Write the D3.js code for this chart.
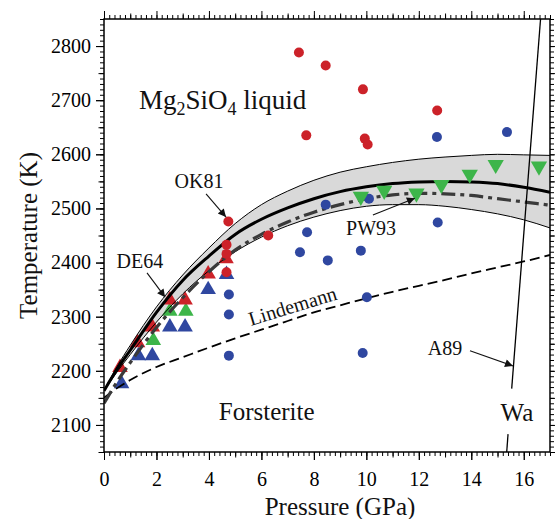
<!DOCTYPE html>
<meta charset="utf-8">
<head>
  <title>Mg2SiO4 melting curve</title>
  <style>
    body { margin: 0; background: #fff; }
    svg { display: block; background: #fff; }
    text { font-family: "Liberation Serif", "Times New Roman", serif; }
    .tick line { stroke: #000; stroke-width: 1; }
  </style>
</head>
<body>
<script src="https://cdn.jsdelivr.net/npm/d3@7"></script>
<script>

// experimental points, [pressure GPa, temperature K]
var redCircles = [[7.43,2788],[8.45,2764],[9.87,2720],[12.70,2681],[7.71,2635],[9.94,2629],
                  [10.05,2618],[6.26,2450],[4.74,2476],[4.67,2433],[4.67,2416],[4.67,2382]];
var blueCircles = [[12.69,2632],[15.36,2641],[8.45,2507],[10.10,2518],[12.72,2474],[7.74,2456],
                   [7.47,2419],[8.53,2404],[9.79,2422],[10.02,2336],[9.86,2233],
                   [4.76,2341],[4.76,2304],[4.76,2228]];
var redTriangles = [[0.61,2206],[1.28,2252],[1.84,2281],[2.51,2331],[3.09,2331],[3.97,2379],[4.65,2407]];
var greenTriangles = [[1.88,2256],[2.51,2310],[3.12,2310]];
var blueTriangles = [[0.67,2176],[1.31,2228],[1.84,2228],[2.51,2281],[3.09,2281],[3.97,2350],[4.67,2378]];
var greenDown = [[9.79,2522],[10.68,2533],[11.91,2528],[12.86,2544],[13.94,2563],[14.93,2581],[16.58,2578]];

// curves read on a common pressure grid
var curveP     = [0,0.5,1,2,3,4,5,6,7,8,9,10,11,12,13,14,15,16,17];
var solidT     = [2163,2203,2238,2308,2367,2412,2452,2480,2501,2518,2531,2540,2546,2549,2550,2549,2546,2539,2530];
var bandTopT   = [2163,2208,2247,2318,2377,2427,2472,2507,2532,2552,2567,2577,2585,2591,2595,2598,2600,2599,2598];
var bandBotT   = [2163,2198,2230,2290,2342,2385,2420,2447,2468,2484,2496,2504,2507,2507,2504,2498,2490,2479,2464];
var pw93T      = [2140,2180,2215,2280,2335,2383,2423,2452,2475,2493,2507,2518,2525,2528,2527,2524,2518,2512,2506];
var lindemannT = [2150,2168,2183,2207,2225,2243,2260,2276,2292,2308,2321,2334,2346,2357,2368,2380,2391,2402,2414];

// A89 boundary (broken where the "Wa" label sits)
var a89Lower = [[15.35,2050],[15.40,2083]];
var a89Upper = [[15.54,2167],[16.64,2850]];

var xTicks = [0,2,4,6,8,10,12,14,16];
var yTicks = [2100,2200,2300,2400,2500,2600,2700,2800];

var margin = {top: 19, right: 5, bottom: 67, left: 104},
    width = 555 - margin.left - margin.right,
    height = 519 - margin.top - margin.bottom;

var x = d3.scaleLinear().domain([0, 17]).range([0, width]);
var y = d3.scaleLinear().domain([2050, 2850]).range([height, 0]);

var svg = d3.select("body").append("svg")
    .attr("width", 555)
    .attr("height", 519);

var defs = svg.append("defs");
defs.append("clipPath").attr("id", "clip")
  .append("rect").attr("width", width).attr("height", height);
defs.append("marker")
    .attr("id", "arrow")
    .attr("viewBox", "0 0 10 10")
    .attr("refX", 10).attr("refY", 5)
    .attr("markerWidth", 11).attr("markerHeight", 8)
    .attr("markerUnits", "userSpaceOnUse")
    .attr("orient", "auto")
  .append("path")
    .attr("d", "M0,0L10,5L0,10z")
    .attr("fill", "#111");

var g = svg.append("g")
    .attr("transform", "translate(" + margin.left + "," + margin.top + ")");

var plot = g.append("g").attr("clip-path", "url(#clip)");

function curve(ts) {
  return curveP.map(function(p, i) { return [p, ts[i]]; });
}

var line = d3.line()
    .x(function(d) { return x(d[0]); })
    .y(function(d) { return y(d[1]); })
    .curve(d3.curveMonotoneX);

// grey uncertainty band
var band = d3.area()
    .x(function(d) { return x(d.p); })
    .y0(function(d) { return y(d.lo); })
    .y1(function(d) { return y(d.hi); })
    .curve(d3.curveMonotoneX);

plot.append("path")
    .datum(curveP.map(function(p, i) { return {p: p, lo: bandBotT[i], hi: bandTopT[i]}; }))
    .attr("d", band)
    .attr("fill", "#d9d9d9");

// upward triangles sit under the curves
var triUp = d3.symbol().type(d3.symbolTriangle).size(105);
var triDown = d3.symbol().type(d3.symbolTriangle).size(115);

function ups(data, color) {
  plot.selectAll(null)
      .data(data)
    .enter().append("path")
      .attr("d", triUp)
      .attr("transform", function(d) { return "translate(" + x(d[0]) + "," + y(d[1]) + ")"; })
      .attr("fill", color);
}
ups(blueTriangles, "#2f47a0");
ups(greenTriangles, "#3db54a");
ups(redTriangles, "#cc2229");

plot.append("path").datum(curve(bandTopT)).attr("d", line)
    .attr("fill", "none").attr("stroke", "#000").attr("stroke-width", 1);
plot.append("path").datum(curve(bandBotT)).attr("d", line)
    .attr("fill", "none").attr("stroke", "#000").attr("stroke-width", 1);

plot.append("path").datum(curve(lindemannT)).attr("d", line)
    .attr("fill", "none").attr("stroke", "#000").attr("stroke-width", 1.8)
    .attr("stroke-dasharray", "10,5");

plot.append("path").datum(curve(pw93T)).attr("d", line)
    .attr("fill", "none").attr("stroke", "#3a3a3a").attr("stroke-width", 3.2)
    .attr("stroke-dasharray", "14,5,4,5");

plot.append("path").datum(curve(solidT)).attr("d", line)
    .attr("fill", "none").attr("stroke", "#000").attr("stroke-width", 3);

var straight = d3.line()
    .x(function(d) { return x(d[0]); })
    .y(function(d) { return y(d[1]); });
[a89Lower, a89Upper].forEach(function(seg) {
  plot.append("path").datum(seg).attr("d", straight)
      .attr("fill", "none").attr("stroke", "#000").attr("stroke-width", 1.3);
});

// circles and downward triangles on top
function dots(data, color) {
  plot.selectAll(null)
      .data(data)
    .enter().append("circle")
      .attr("cx", function(d) { return x(d[0]); })
      .attr("cy", function(d) { return y(d[1]); })
      .attr("r", 5)
      .attr("fill", color);
}
dots(blueCircles, "#2f47a0");
dots(redCircles, "#cc2229");

plot.selectAll(null)
    .data(greenDown)
  .enter().append("path")
    .attr("d", triDown)
    .attr("transform", function(d) { return "translate(" + x(d[0]) + "," + y(d[1]) + ") rotate(180)"; })
    .attr("fill", "#3db54a");

// axes: major / medium / minor ticks on all four sides, pointing out
function ticks(axisFn, scale, values, size) {
  return axisFn(scale).tickValues(values).tickSize(size).tickFormat("");
}
var xMinor = d3.range(0, 17.001, 0.2), xMid = d3.range(1, 17, 2);
var yMinor = d3.range(2050, 2850.1, 10), yMid = d3.range(2050, 2850, 100);

[[d3.axisBottom, "translate(0," + height + ")"], [d3.axisTop, "translate(0,0)"]].forEach(function(a) {
  g.append("g").attr("transform", a[1]).call(ticks(a[0], x, xMinor, 4));
  g.append("g").attr("transform", a[1]).call(ticks(a[0], x, xMid, 5.5));
  g.append("g").attr("transform", a[1]).call(ticks(a[0], x, xTicks, 8));
});
[[d3.axisLeft, "translate(0,0)"], [d3.axisRight, "translate(" + width + ",0)"]].forEach(function(a) {
  g.append("g").attr("transform", a[1]).call(ticks(a[0], y, yMinor, 4));
  g.append("g").attr("transform", a[1]).call(ticks(a[0], y, yMid, 5.5));
  g.append("g").attr("transform", a[1]).call(ticks(a[0], y, yTicks, 8));
});

g.append("g")
    .attr("transform", "translate(0," + height + ")")
    .call(d3.axisBottom(x).tickValues(xTicks).tickSize(8).tickPadding(12).tickFormat(d3.format("d")));
g.append("g")
    .call(d3.axisLeft(y).tickValues(yTicks).tickSize(8).tickPadding(5).tickFormat(d3.format("d")));
g.selectAll(".domain").remove();
g.selectAll(".tick text")
    .style("font-family", "'Liberation Serif', 'Times New Roman', serif")
    .style("font-size", "20px")
    .attr("fill", "#000");

g.append("rect")
    .attr("width", width).attr("height", height)
    .attr("fill", "none").attr("stroke", "#000").attr("stroke-width", 1.5);

function big(sel) {
  return sel.style("font-size", "25px").attr("fill", "#111");
}
function small(sel) {
  return sel.style("font-size", "20px").attr("fill", "#111");
}

// axis titles
big(svg.append("text"))
    .attr("x", 340).attr("y", 515)
    .attr("text-anchor", "middle")
    .text("Pressure (GPa)");
big(svg.append("text"))
    .attr("transform", "translate(37," + (margin.top + height / 2) + ") rotate(-90)")
    .attr("text-anchor", "middle")
    .text("Temperature (K)");

// region labels
var liq = big(g.append("text"))
    .attr("x", x(1.33)).attr("y", y(2684))
    .style("font-size", "27px");
liq.append("tspan").text("Mg");
liq.append("tspan").attr("dy", 6).style("font-size", "18px").text("2");
liq.append("tspan").attr("dy", -6).text("SiO");
liq.append("tspan").attr("dy", 6).style("font-size", "18px").text("4");
liq.append("tspan").attr("dy", -6).text(" liquid");

big(g.append("text"))
    .attr("x", x(6.2)).attr("y", y(2109))
    .attr("text-anchor", "middle")
    .text("Forsterite");
big(g.append("text"))
    .attr("x", x(15.74)).attr("y", y(2107))
    .attr("text-anchor", "middle")
    .text("Wa");

// source labels with arrows
var notes = [
  {t: "OK81", lx: 3.62, ly: 2538, from: [3.89, 2527], to: [4.65, 2484]},
  {t: "DE64", lx: 1.37, ly: 2390, from: [1.64, 2381], to: [2.33, 2336]},
  {t: "PW93", lx: 10.18, ly: 2451, from: [10.25, 2488], to: [11.85, 2519]},
  {t: "A89", lx: 13.0, ly: 2229, from: [13.95, 2237], to: [15.59, 2209]}
];
notes.forEach(function(n) {
  small(g.append("text"))
      .attr("x", x(n.lx)).attr("y", y(n.ly))
      .attr("text-anchor", "middle")
      .text(n.t);
  g.append("line")
      .attr("x1", x(n.from[0])).attr("y1", y(n.from[1]))
      .attr("x2", x(n.to[0])).attr("y2", y(n.to[1]))
      .attr("stroke", "#111").attr("stroke-width", 1.1)
      .attr("marker-end", "url(#arrow)");
});

small(g.append("text"))
    .attr("transform", "translate(" + x(5.6) + "," + y(2283) + ") rotate(-17)")
    .text("Lindemann");

</script>
</body>
